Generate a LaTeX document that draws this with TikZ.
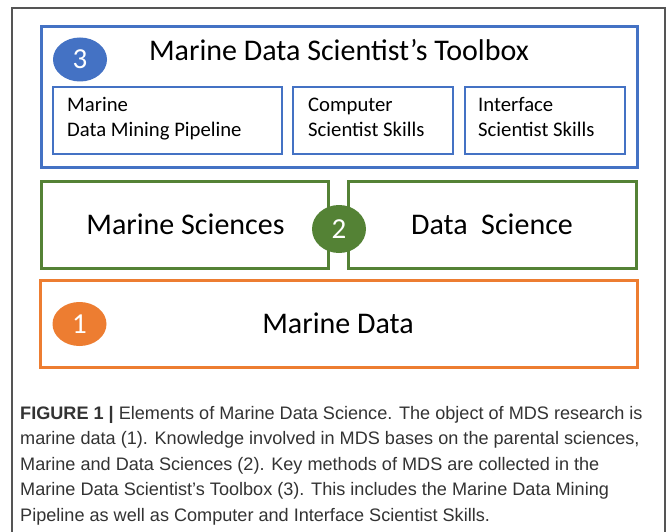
\documentclass[tikz,border=0pt]{standalone}
\usepackage{fontspec}
\setmainfont{Carlito}
\newfontfamily\capfont{Liberation Sans}
\usetikzlibrary{shapes.geometric}
\definecolor{mblue}{HTML}{4472C4}
\definecolor{mgreen}{HTML}{548235}
\definecolor{morange}{HTML}{ED7D31}
\definecolor{frameg}{HTML}{555555}
\definecolor{captxt}{HTML}{333333}
\tikzset{
  box/.style={draw, rectangle, line width=3pt, anchor=north west, inner sep=0pt, outer sep=0pt},
  ibox/.style={draw=mblue, rectangle, line width=2.4pt, anchor=north west, inner sep=0pt, outer sep=0pt, minimum width=#1, minimum height=67pt},
  badge/.style={ellipse, fill=#1, text=white, inner sep=0pt, minimum width=54pt, minimum height=44pt, font=\fontsize{29}{29}\selectfont},
  boxlabel/.style={anchor=base west, inner sep=0pt, font=\fontsize{20.7}{25}\selectfont},
  biglabel/.style={anchor=base, inner sep=0pt, font=\fontsize{30}{34}\selectfont},
  capline/.style={anchor=base west, inner sep=0pt, text=captxt, font=\capfont\fontsize{18.1}{25}\selectfont}
}
\begin{document}
\begin{tikzpicture}[x=1pt,y=-1pt]
\useasboundingbox (0,0) rectangle (667,532);
\fill[white] (0,0) rectangle (667,532);
% outer frame
\draw[frameg, line width=1.3pt] (12,540) -- (12,8) -- (665,8) -- (665,540);
% toolbox
\node[box, draw=mblue, minimum width=596pt, minimum height=141pt] (toolbox) at (41,27) {};
\node[badge=mblue] (b3) at (80,59.5) {3};
\node[anchor=base, inner sep=0pt, font=\fontsize{30}{34}\selectfont] (title) at (339,61) {Marine Data Scientist’s Toolbox};
\node[ibox=229pt] (pipe) at (53,87) {};
\node[ibox=160pt] (comp) at (293,87) {};
\node[ibox=160pt] (intf) at (465,87) {};
\node[boxlabel] (pipet1) at (67,112) {Marine};
\node[boxlabel] (pipet2) at (67,137) {Data Mining Pipeline};
\node[boxlabel] (compt1) at (308,112) {Computer};
\node[boxlabel] (compt2) at (308,137) {Scientist Skills};
\node[boxlabel] (intft1) at (478,112) {Interface};
\node[boxlabel] (intft2) at (478,137) {Scientist Skills};
% sciences
\node[box, draw=mgreen, minimum width=287pt, minimum height=86pt] (ms) at (41,182) {};
\node[box, draw=mgreen, minimum width=288pt, minimum height=86pt] (ds) at (348,182) {};
\node[biglabel] (mst) at (185.5,234) {Marine Sciences};
\node[biglabel] (dst) at (492,234) {Data\ \ Science};
\node[badge=mgreen, minimum height=48pt] (b2) at (339,229) {2};
% data
\node[box, draw=morange, minimum width=597pt, minimum height=87pt] (md) at (40,280) {};
\node[badge=morange] (b1) at (79.5,324) {1};
\node[biglabel] (mdt) at (338,333) {Marine Data};
% caption
\node[capline] (cap1) at (20,419) {\textbf{FIGURE 1 |} Elements of Marine Data Science. The object of MDS research is};
\node[capline] (cap2) at (20,444.5) {marine data (1). Knowledge involved in MDS bases on the parental sciences,};
\node[capline] (cap3) at (20,470) {Marine and Data Sciences (2). Key methods of MDS are collected in the};
\node[capline] (cap4) at (20,495.5) {Marine Data Scientist’s Toolbox (3). This includes the Marine Data Mining};
\node[capline] (cap5) at (20,521) {Pipeline as well as Computer and Interface Scientist Skills.};
\end{tikzpicture}
\end{document}
